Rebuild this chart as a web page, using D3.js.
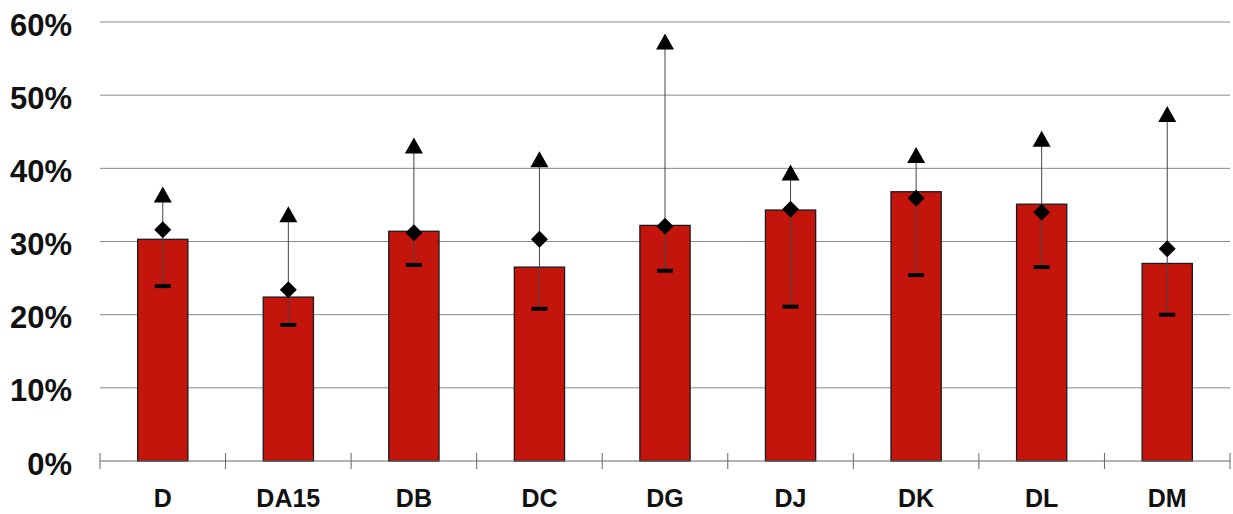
<!DOCTYPE html>
<html><head><meta charset="utf-8">
<script src="https://cdn.jsdelivr.net/npm/d3@7"></script>
<style>body{margin:0;background:#fff;}svg{display:block;font-family:"Liberation Sans",Arial,sans-serif;}</style>
</head><body>
<svg id="c" width="1233" height="514"></svg>
<script>
const categories = ["D","DA15","DB","DC","DG","DJ","DK","DL","DM"];
const barValues = [30.3,22.4,31.4,26.5,32.2,34.3,36.8,35.1,27.0];
const maxValues = [36.3,33.6,43.0,41.1,57.2,39.3,41.7,43.9,47.3];
const diamondValues = [31.6,23.4,31.2,30.3,32.1,34.4,35.9,34.0,29.0];
const minValues = [23.9,18.6,26.8,20.8,26.0,21.1,25.4,26.5,20.0];
const yTicks = [0,10,20,30,40,50,60];

(function(){
const svg = d3.select("#c");
const mL = 100, mR = 1230, mT = 22, mB = 461;
const x = d3.scaleBand().domain(categories).range([mL, mR]).paddingInner(0.6).paddingOuter(0.3);
const xb = d3.scaleBand().domain(categories).range([mL, mR]);
const y = d3.scaleLinear().domain([0,60]).range([mB, mT]);

svg.append("g").selectAll("line").data(yTicks.filter(d=>d>0)).join("line")
  .attr("x1", mL).attr("x2", mR).attr("y1", d=>y(d)).attr("y2", d=>y(d))
  .attr("stroke", "#8a8a8a").attr("stroke-width", 1);

svg.append("g").selectAll("text").data(yTicks).join("text")
  .attr("x", 72).attr("y", d=>y(d)+13.5).attr("text-anchor","end")
  .attr("font-size", 31).attr("font-weight","bold").attr("fill","#111")
  .text(d=>d+"%");

svg.append("g").selectAll("rect").data(categories).join("rect")
  .attr("x", d=>x(d)).attr("width", x.bandwidth())
  .attr("y", (d,i)=>y(barValues[i])).attr("height", (d,i)=>y(0)-y(barValues[i]))
  .attr("fill", "#c4150c").attr("stroke", "#1a1a1a").attr("stroke-width", 1.3);

svg.append("line").attr("x1", mL).attr("x2", mR).attr("y1", y(0)).attr("y2", y(0))
  .attr("stroke", "#666").attr("stroke-width", 1);
const bounds = categories.map(c=>xb(c)).concat([mR]);
svg.append("g").selectAll("line").data(bounds).join("line")
  .attr("x1", d=>d).attr("x2", d=>d).attr("y1", y(0)-8).attr("y2", y(0)+8)
  .attr("stroke", "#666").attr("stroke-width", 1);

svg.append("g").selectAll("text").data(categories).join("text")
  .attr("x", d=>x(d)+x.bandwidth()/2).attr("y", 507).attr("text-anchor","middle")
  .attr("font-size", 25).attr("font-weight","bold").attr("fill","#111").text(d=>d);

const cx = d=>x(d)+x.bandwidth()/2;
svg.append("g").selectAll("line").data(categories).join("line")
  .attr("x1", cx).attr("x2", cx)
  .attr("y1", (d,i)=>y(minValues[i])).attr("y2", (d,i)=>y(maxValues[i]))
  .attr("stroke", "#444").attr("stroke-width", 1);

svg.append("g").selectAll("rect").data(categories).join("rect")
  .attr("x", d=>cx(d)-8).attr("width", 16)
  .attr("y", (d,i)=>y(minValues[i])-2).attr("height", 4).attr("fill", "#000");

svg.append("g").selectAll("path").data(categories).join("path")
  .attr("d", (d,i)=>{const X=cx(d),Y=y(diamondValues[i]),r=8.5;return `M${X},${Y-r}L${X+r},${Y}L${X},${Y+r}L${X-r},${Y}Z`;})
  .attr("fill","#000");

svg.append("g").selectAll("path").data(categories).join("path")
  .attr("d", (d,i)=>{const X=cx(d),Y=y(maxValues[i]);return `M${X},${Y-9}L${X+9},${Y+7}L${X-9},${Y+7}Z`;})
  .attr("fill","#000");
})();
</script>
</body></html>
